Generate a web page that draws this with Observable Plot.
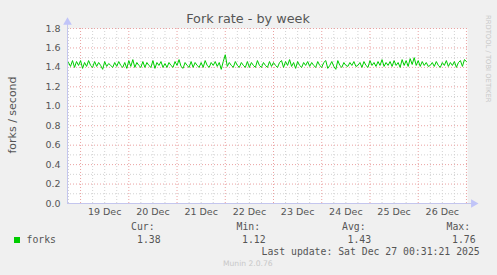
<!DOCTYPE html>
<html><head><meta charset="utf-8">
<script src="https://cdn.jsdelivr.net/npm/d3@7"></script>
<script src="https://cdn.jsdelivr.net/npm/@observablehq/plot@0.6"></script>
<style>
html,body{margin:0;padding:0;}
body{background:#f0f0f0;width:497px;height:275px;overflow:hidden;position:relative;font-family:"DejaVu Sans";}
#chart{position:absolute;left:0;top:0;}
.t{position:absolute;white-space:nowrap;color:#555;line-height:1;}
.m{font-family:"DejaVu Sans Mono";font-size:9.8px;}
</style></head><body>
<div id="chart"></div>
<script>
const title = "Fork rate - by week";
const yLabel = "forks / second";
const seriesName = "forks";
const statLabels = ["Cur:", "Min:", "Avg:", "Max:"];
const statValues = ["1.38", "1.12", "1.43", "1.76"];
const lastUpdate = "Last update: Sat Dec 27 00:31:21 2025";
const version = "Munin 2.0.76";
const vendor = "RRDTOOL / TOBI OETIKER";
const yTicks = [0, 0.2, 0.4, 0.6, 0.8, 1.0, 1.2, 1.4, 1.6, 1.8];
const dayLabels = ["19 Dec","20 Dec","21 Dec","22 Dec","23 Dec","24 Dec","25 Dec","26 Dec"];
// hourly samples starting 2025-12-18 18:00 UTC
const forks = [
1.45,1.41,1.47,1.40,1.46,1.42,1.47,1.39,1.45,1.41,1.47,1.42,1.40,1.46,1.41,1.45,1.42,1.38,1.46,1.41,
1.44,1.42,1.40,1.45,1.41,1.46,1.42,1.40,1.45,1.39,1.47,1.41,1.48,1.40,1.45,1.42,1.40,1.46,1.40,1.45,
1.42,1.40,1.47,1.39,1.45,1.42,1.46,1.40,1.44,1.40,1.45,1.42,1.40,1.46,1.42,1.48,1.41,1.39,1.45,1.42,
1.40,1.46,1.40,1.45,1.42,1.40,1.45,1.40,1.47,1.42,1.40,1.45,1.42,1.46,1.41,1.45,1.38,1.46,1.53,1.41,
1.45,1.42,1.40,1.46,1.42,1.40,1.45,1.42,1.40,1.46,1.40,1.45,1.42,1.40,1.47,1.42,1.40,1.45,1.42,1.40,
1.46,1.41,1.45,1.42,1.40,1.45,1.47,1.40,1.46,1.42,1.48,1.41,1.45,1.39,1.46,1.42,1.40,1.45,1.42,1.46,
1.41,1.45,1.42,1.40,1.46,1.42,1.40,1.45,1.47,1.39,1.42,1.46,1.41,1.38,1.47,1.42,1.40,1.45,1.42,1.41,
1.45,1.42,1.46,1.41,1.42,1.45,1.40,1.46,1.42,1.40,1.47,1.42,1.45,1.41,1.46,1.42,1.48,1.41,1.45,1.42,
1.46,1.41,1.47,1.42,1.45,1.40,1.48,1.42,1.47,1.41,1.49,1.43,1.50,1.42,1.47,1.41,1.46,1.42,1.45,1.41,
1.42,1.45,1.41,1.46,1.42,1.40,1.45,1.42,1.47,1.41,1.45,1.42,1.46,1.40,1.45,1.47,1.41,1.48,1.46
];

const start = new Date(Date.UTC(2025,11,18,17,30));
const end = new Date(Date.UTC(2025,11,27,0,31,21));
const first = new Date(Date.UTC(2025,11,18,18));
const data = forks.map((v,i)=>({t: d3.utcHour.offset(first,i), v}));

const majorX = d3.utcDay.range(start, end);
const minorX = d3.utcHour.every(6).range(start, end).filter(d => d.getUTCHours() !== 0);
const majorY = yTicks.filter(d => d > 0);
const minorY = yTicks.slice(0, -1).map(d => +(d + 0.1).toFixed(1));
const labelDates = dayLabels.map((s,i) => new Date(Date.UTC(2025,11,19+i,12)));

const axisColor = "#c4c6ee";
const arrowColor = "#c0c4f8";
const yTop = 1.865;
const xEnd = d3.utcHour.offset(end, 3);

const plot = Plot.plot({
  width: 497, height: 275,
  marginLeft: 67, marginRight: 30, marginTop: 28, marginBottom: 72,
  style: {background: "transparent", fontFamily: "DejaVu Sans", fontSize: "9.5px", color: "#555", overflow: "visible"},
  x: {type: "utc", domain: [start, end]},
  y: {domain: [0, 1.8]},
  marks: [
    Plot.frame({fill: "white"}),
    Plot.ruleY(minorY, {stroke: "#d2d2d2", strokeDasharray: "1,2"}),
    Plot.ruleX(minorX, {stroke: "#d2d2d2", strokeDasharray: "1,2"}),
    Plot.ruleY(majorY, {stroke: "#eaa2a2", strokeDasharray: "1,2"}),
    Plot.ruleX(majorX, {stroke: "#eaa2a2", strokeDasharray: "1,2"}),
    Plot.line(data, {x: "t", y: "v", stroke: "#00cc00", strokeWidth: 1}),
    Plot.axisY({ticks: yTicks, tickFormat: d => d.toFixed(1), tickSize: 0, tickPadding: 7, label: null, fill: "#555"}),
    Plot.axisX({ticks: labelDates, tickFormat: (d,i) => dayLabels[i], tickSize: 0, tickPadding: 5, label: null, fill: "#555"}),
    Plot.ruleY([0], {x1: start, x2: xEnd, stroke: axisColor}),
    Plot.ruleX([start], {y1: 0, y2: yTop, stroke: axisColor}),
    Plot.dot([{x: start, y: yTop}], {x: "x", y: "y", symbol: "triangle", r: 3.2, fill: arrowColor}),
    Plot.dot([{x: xEnd, y: 0}], {x: "x", y: "y", symbol: "triangle", r: 3.2, fill: arrowColor, rotate: 90})
  ]
});
document.getElementById("chart").appendChild(plot);

function addText(txt, cls, style) {
  const d = document.createElement("div");
  d.className = "t " + cls;
  d.textContent = txt;
  Object.assign(d.style, style);
  document.body.appendChild(d);
  return d;
}
addText(title, "", {left: "248px", top: "12.5px", fontSize: "12.8px", transform: "translateX(-50%)"});
addText(yLabel, "", {left: "12px", top: "115px", fontSize: "11px", transform: "translate(-50%,-50%) rotate(-90deg)"});
addText(vendor, "", {left: "484.5px", top: "15px", fontSize: "6.8px", writingMode: "vertical-rl", color: "#c8c8c8"});

const sw = document.createElement("div");
Object.assign(sw.style, {position: "absolute", left: "14px", top: "237px", width: "6px", height: "6px", background: "#00cc00"});
document.body.appendChild(sw);
addText(seriesName, "m", {left: "26.5px", top: "234.7px"});
const labelX = [131, 236.5, 342, 446.5];
const valueX = [137, 242, 347.5, 452];
statLabels.forEach((s,i) => addText(s, "m", {left: labelX[i] + "px", top: "221.7px"}));
statValues.forEach((s,i) => addText(s, "m", {left: valueX[i] + "px", top: "234.7px"}));
addText(lastUpdate, "m", {left: "261.5px", top: "246.7px"});
addText(version, "", {left: "223px", top: "259.5px", fontSize: "7.6px", color: "#c8c8c8"});
</script>
</body></html>
